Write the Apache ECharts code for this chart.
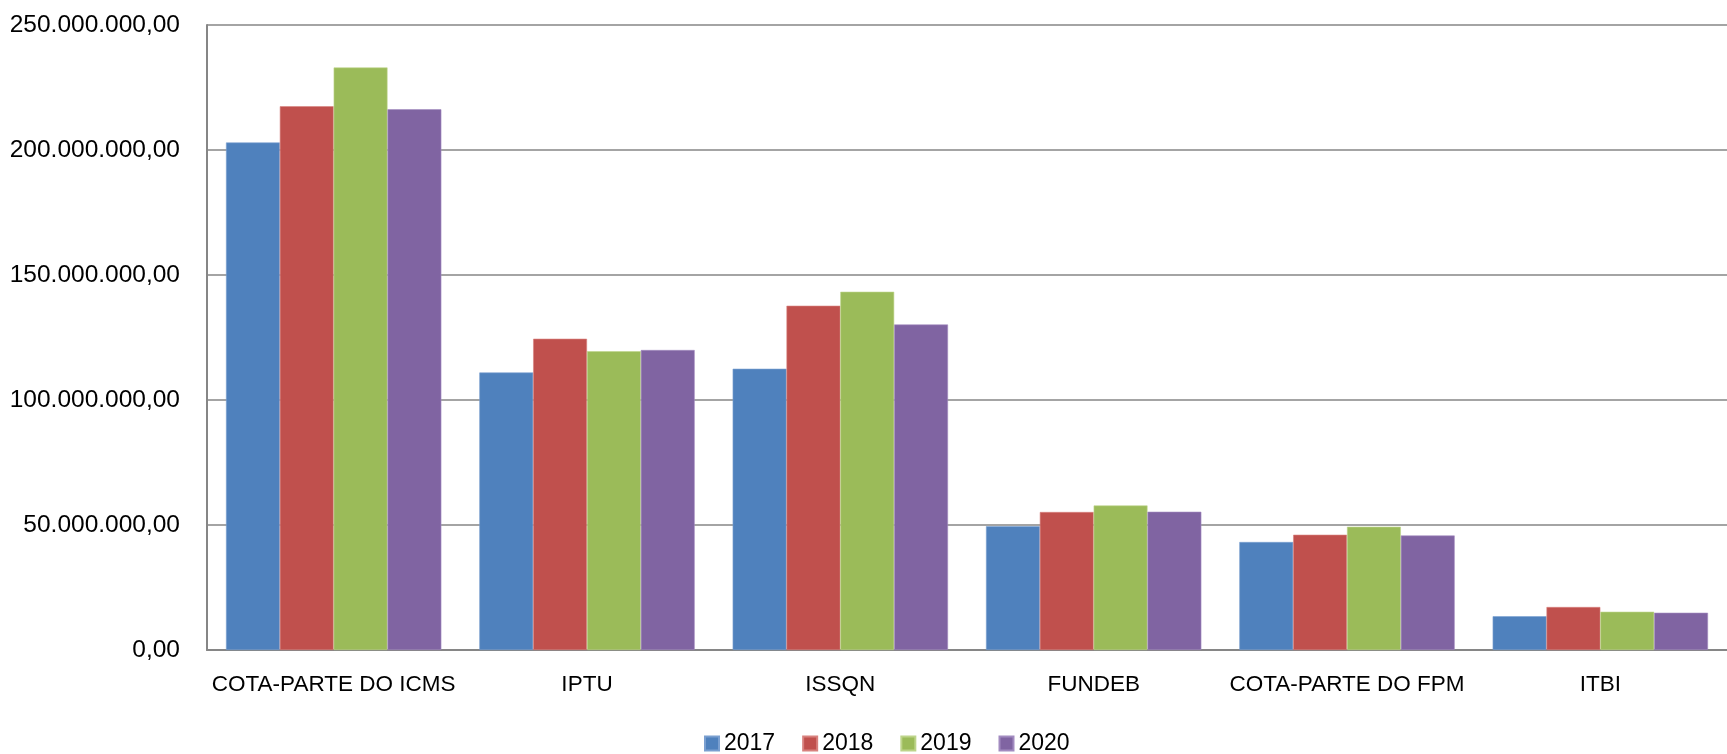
<!DOCTYPE html>
<html>
<head>
<meta charset="utf-8">
<script src="https://cdn.jsdelivr.net/npm/echarts@6/dist/echarts.min.js"></script>
<style>
  html, body { margin: 0; padding: 0; background: #fff; }
  #chart { width: 1727px; height: 754px; }
</style>
</head>
<body>
<div id="chart"></div>
<script>
const categories = ['COTA-PARTE DO ICMS', 'IPTU', 'ISSQN', 'FUNDEB', 'COTA-PARTE DO FPM', 'ITBI'];
const years = ['2017', '2018', '2019', '2020'];
const values2017 = [203.0e6, 111.0e6, 112.5e6, 49.5e6, 43.2e6, 13.5e6];
const values2018 = [217.5e6, 124.5e6, 137.7e6, 55.2e6, 46.1e6, 17.2e6];
const values2019 = [233.0e6, 119.5e6, 143.3e6, 57.8e6, 49.3e6, 15.3e6];
const values2020 = [216.3e6, 120.0e6, 130.2e6, 55.3e6, 45.8e6, 14.9e6];
const seriesValues = [values2017, values2018, values2019, values2020];
const colors = ['#4F81BD', '#C0504D', '#9BBB59', '#8064A2'];
const edgeColors = ['#7A9FD0', '#D8817E', '#BDD48A', '#A28BC0'];

function fmtBR(v) {
  const fixed = Number(v).toFixed(2);
  const parts = fixed.split('.');
  const intPart = parts[0].replace(/\B(?=(\d{3})+(?!\d))/g, '.');
  return intPart + ',' + parts[1];
}

const FONT = 'Liberation Sans';
const chart = echarts.init(document.getElementById('chart'), null, { renderer: 'canvas' });
chart.setOption({
  animation: false,
  backgroundColor: '#ffffff',
  color: colors,
  grid: { left: 207, top: 25, width: 1531, height: 625, containLabel: false },
  legend: {
    data: years,
    left: 699,
    top: 727,
    icon: 'rect',
    itemWidth: 14,
    itemHeight: 14,
    itemGap: 27,
    textStyle: { fontFamily: FONT, fontSize: 23, color: '#000' }
  },
  xAxis: {
    type: 'category',
    data: categories,
    axisTick: { show: false },
    axisLine: { lineStyle: { color: '#868686', width: 2 } },
    axisLabel: { interval: 0, margin: 23, fontFamily: FONT, fontSize: 22.5, color: '#000' },
    splitLine: { show: false }
  },
  yAxis: {
    type: 'value',
    min: 0,
    max: 250e6,
    interval: 50e6,
    axisLine: { show: true, lineStyle: { color: '#868686', width: 2 } },
    axisTick: { show: false },
    axisLabel: { margin: 27, fontFamily: FONT, fontSize: 24.5, color: '#000', formatter: fmtBR },
    splitLine: { lineStyle: { color: '#868686', width: 1.5 } }
  },
  series: years.map((y, i) => ({
    name: y,
    type: 'bar',
    data: seriesValues[i],
    barGap: '0%',
    barCategoryGap: '15%',
    itemStyle: { color: colors[i], borderColor: edgeColors[i], borderWidth: 0.6 }
  }))
});
</script>
</body>
</html>
